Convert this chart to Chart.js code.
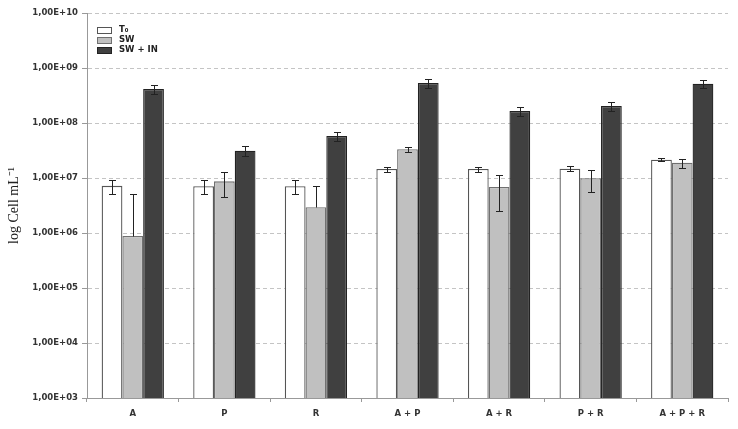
<!DOCTYPE html>
<html>
<head>
<meta charset="utf-8">
<script src="https://cdn.jsdelivr.net/npm/chart.js@4/dist/chart.umd.min.js"></script>
<style>
  html, body { margin: 0; padding: 0; background: #fff; }
  #wrap { width: 738px; height: 429px; }
</style>
</head>
<body>
<div id="wrap"><canvas id="chart"></canvas></div>
<script>
const categories = ['A', 'P', 'R', 'A + P', 'A + R', 'P + R', 'A + P + R'];
const seriesNames = ['T\u2080', 'SW', 'SW + IN'];

const t0Values = [7.2e6, 7.1e6, 7.1e6, 1.46e7, 1.46e7, 1.48e7, 2.15e7];
const t0Errors = [2.0e6, 2.0e6, 2.0e6, 1.5e6, 1.5e6, 1.5e6, 1.2e6];

const swValues = [8.8e5, 8.7e6, 2.93e6, 3.33e7, 6.86e6, 9.87e6, 1.9e7];
const swErrors = [4.2e6, 4.2e6, 4.3e6, 3.5e6, 4.3e6, 4.2e6, 3.5e6];

const swinValues = [4.15e8, 3.14e7, 5.8e7, 5.34e8, 1.65e8, 2.04e8, 5.19e8];
const swinErrors = [0.8e8, 0.65e7, 1.1e7, 1.1e8, 3.0e7, 4.0e7, 9.0e7];

const yTicks = [1e3, 1e4, 1e5, 1e6, 1e7, 1e8, 1e9, 1e10];

const fills = ['#ffffff', '#c0c0c0', '#404040'];
const borders = ['#555555', '#707070', '#222222'];

const errorBars = {
  id: 'errorBars',
  afterDatasetsDraw(chart) {
    const ctx = chart.ctx;
    const y = chart.scales.y;
    ctx.save();
    ctx.strokeStyle = '#222';
    ctx.lineWidth = 1;
    chart.data.datasets.forEach((ds, di) => {
      const meta = chart.getDatasetMeta(di);
      meta.data.forEach((bar, i) => {
        const v = ds.data[i], e = ds.errors[i];
        const yTop = Math.round(y.getPixelForValue(v + e)) + 0.5;
        const hasLow = v - e > 0;
        const yBot = Math.round(hasLow ? y.getPixelForValue(v - e) : y.getPixelForValue(v)) + 0.5;
        const x = Math.round(bar.x) + 0.5;
        ctx.beginPath();
        ctx.moveTo(x, yTop);
        ctx.lineTo(x, yBot);
        ctx.moveTo(x - 3.5, yTop);
        ctx.lineTo(x + 3.5, yTop);
        if (hasLow) {
          ctx.moveTo(x - 3.5, yBot);
          ctx.lineTo(x + 3.5, yBot);
        }
        ctx.stroke();
      });
    });
    ctx.restore();
  }
};

// legend sits inside the plot, top left
const innerLegend = {
  id: 'innerLegend',
  afterDraw(chart) {
    const ctx = chart.ctx;
    const left = Math.round(chart.chartArea.left) + 10;
    let top = Math.round(chart.chartArea.top) + 14;
    ctx.save();
    ctx.font = 'bold 8.5px "DejaVu Sans"';
    ctx.textBaseline = 'middle';
    chart.data.datasets.forEach((ds, i) => {
      ctx.fillStyle = fills[i];
      ctx.strokeStyle = borders[i];
      ctx.lineWidth = 1;
      ctx.fillRect(left + 0.5, top + 0.5, 14, 6);
      ctx.strokeRect(left + 0.5, top + 0.5, 14, 6);
      ctx.fillStyle = '#222';
      ctx.fillText(ds.label, left + 22, top + 3);
      top += 10;
    });
    ctx.restore();
  }
};

new Chart(document.getElementById('chart'), {
  type: 'bar',
  data: {
    labels: categories,
    datasets: [
      { label: seriesNames[0], data: t0Values, errors: t0Errors },
      { label: seriesNames[1], data: swValues, errors: swErrors },
      { label: seriesNames[2], data: swinValues, errors: swinErrors }
    ].map((ds, i) => Object.assign(ds, {
      backgroundColor: fills[i],
      borderColor: borders[i],
      borderWidth: 1.3,
      borderSkipped: 'bottom',
      barPercentage: 1,
      categoryPercentage: 0.68
    }))
  },
  options: {
    responsive: true,
    maintainAspectRatio: false,
    animation: false,
    devicePixelRatio: 1,
    layout: { padding: { top: 13, right: 10, left: 0, bottom: 0 } },
    plugins: {
      legend: { display: false },
      tooltip: { enabled: false }
    },
    scales: {
      x: {
        grid: { display: true, offset: true, drawOnChartArea: false, tickLength: 4, color: '#999' },
        border: { color: '#999' },
        ticks: { color: '#333', font: { family: 'DejaVu Sans', size: 8.5, weight: 'bold' }, padding: 7 },
        afterFit(scale) { scale.height = 31; }
      },
      y: {
        type: 'logarithmic',
        min: 1e3,
        max: 1e10,
        afterBuildTicks(scale) { scale.ticks = yTicks.map(v => ({ value: v })); },
        grid: {
          color: '#c4c4c4',
          tickLength: 5,
          tickColor: '#999',
          tickBorderDash: []
        },
        border: { color: '#999', dash: [4, 3] },
        ticks: {
          color: '#333',
          font: { family: 'DejaVu Sans', size: 8.5, weight: 'bold' },
          padding: 4,
          callback(v) {
            const exp = Math.round(Math.log10(v));
            return '1,00E+' + String(exp).padStart(2, '0');
          }
        },
        title: {
          display: true,
          text: 'log Cell mL\u207B\u00B9',
          color: '#222',
          font: { family: 'Liberation Serif', size: 14 },
          padding: { top: 6, bottom: 0 }
        },
        afterFit(scale) { scale.width = 87; }
      }
    }
  },
  plugins: [errorBars, innerLegend]
});
</script>
</body>
</html>
